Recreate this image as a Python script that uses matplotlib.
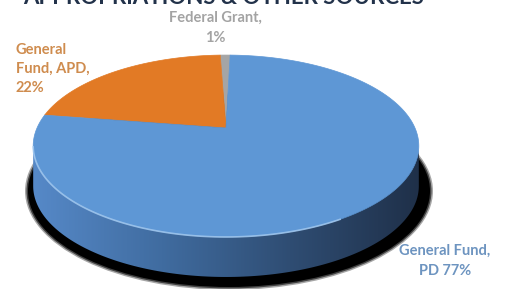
import numpy as np
import matplotlib.pyplot as plt
from matplotlib.patches import Polygon, Ellipse
from matplotlib.colors import LinearSegmentedColormap

title = "APPROPRIATIONS & OTHER SOURCES"
labels = ["Federal Grant,\n1%", "General\nFund, APD,\n22%", "General Fund,\nPD 77%"]
shares = [1, 22, 77]
colors = ["#a5a5a5", "#e27a25", "#5e97d5"]
label_colors = ["#a3a3a3", "#cf8c4e", "#6d94c0"]

W, H = 513, 289
fig = plt.figure(figsize=(W / 100, H / 100), dpi=100)
ax = fig.add_axes([0, 0, 1, 1])
ax.axis("off")

# perspective "3d" pie, drawn in pixel coords
cx, cy = 226, 128          # apex of the slices
A, B, p = 189, 87.4, 0.198  # radii + perspective factor
depth = 40
start = 88.5


def project(phi, dy=0.0):
    u, v = np.cos(phi), np.sin(phi)
    s = 1 + p * v
    return np.column_stack([cx + A * u / s, cy - B * v / s + dy])


# shadow under the pie
for k, al in [(6, 0.35), (3, 0.6), (0, 1.0)]:
    ax.add_patch(Ellipse((229, 191), 402 + k, 192 + k, color="black", alpha=al, lw=0, zorder=1))

# side wall with horizontal shading
phi_side = np.radians(np.linspace(180 + np.degrees(np.arcsin(p)), 360 - np.degrees(np.arcsin(p)), 200))
side = np.vstack([project(phi_side), project(phi_side[::-1], depth)])
side_patch = Polygon(side, closed=True, facecolor="none", edgecolor="none", zorder=2)
ax.add_patch(side_patch)
cmap = LinearSegmentedColormap.from_list("wall", ["#5689c8", "#406ca0", "#2f4d73", "#1f3049"])
grad = np.linspace(0, 1, 256).reshape(1, -1)
im = ax.imshow(grad, cmap=cmap, extent=(side[:, 0].min(), side[:, 0].max(), side[:, 1].max(), side[:, 1].min()),
               aspect="auto", zorder=2)
im.set_clip_path(side_patch)

# top face slices
angles = start + np.concatenate([[0], np.cumsum(shares)]) * 3.6
for i, col in enumerate(colors):
    phi = np.radians(np.linspace(angles[i], angles[i + 1], 300))
    pts = np.vstack([[cx, cy], project(phi)])
    ax.add_patch(Polygon(pts, closed=True, facecolor=col, edgecolor=col, lw=0.5, zorder=3))

# light rim on the front edge
rim = project(np.radians(np.linspace(192, 300, 100)))
ax.plot(rim[:, 0], rim[:, 1], color="#a8cdf2", lw=1.2, alpha=0.8, zorder=4)

ax.set_xlim(0, W)
ax.set_ylim(H, 0)

font = "Lato"
ax.text(215, 28, labels[0], ha="center", va="center", fontsize=10.5, family=font,
        weight="bold", color=label_colors[0], linespacing=1.5)
ax.text(16, 69, labels[1], ha="left", va="center", fontsize=10.5, family=font,
        weight="bold", color=label_colors[1], linespacing=1.5)
ax.text(445, 261, labels[2], ha="center", va="center", fontsize=10.5, family=font,
        weight="bold", color=label_colors[2], linespacing=1.5)

fig.text(223.5 / W, 1 - 4 / H, title, ha="center", va="baseline", fontsize=16,
         family=font, weight="bold", color="#22324a")

fig.savefig("out.png", dpi=100)
